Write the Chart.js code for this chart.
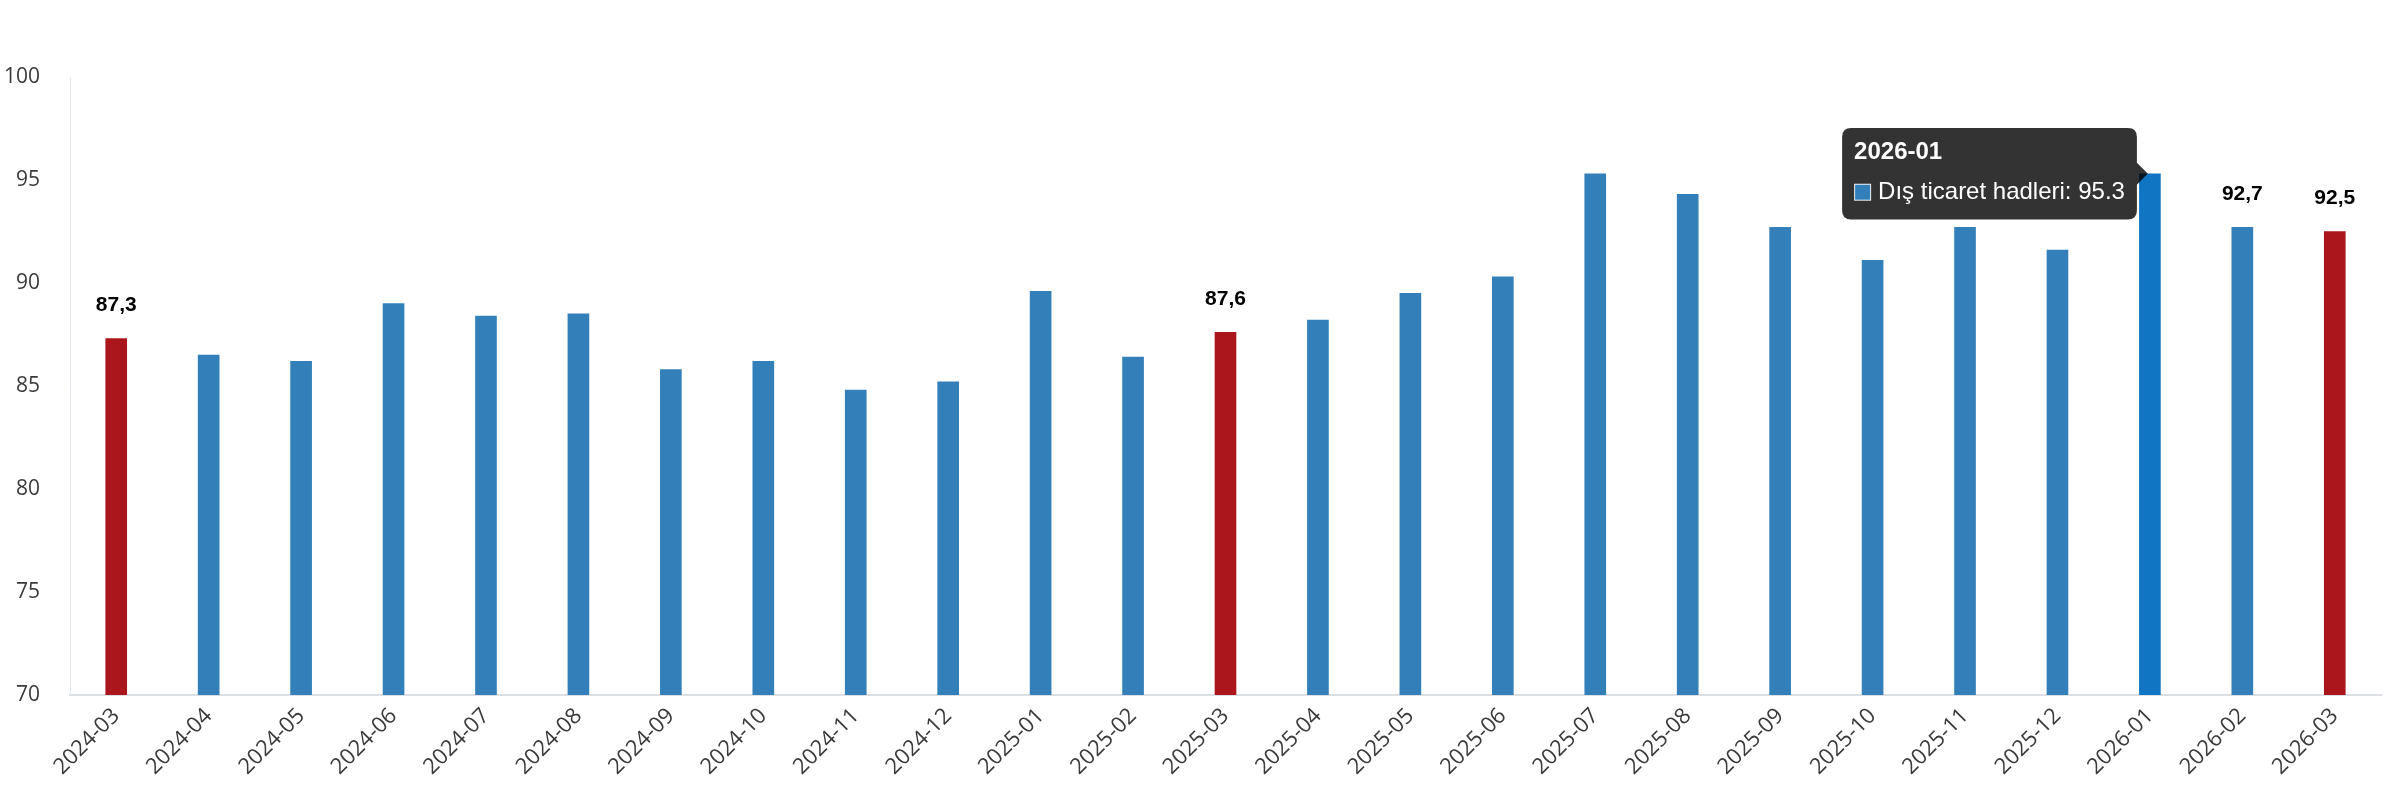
<!DOCTYPE html>
<html lang="tr">
<head>
<meta charset="utf-8">
<title>Dış ticaret hadleri</title>
<script src="https://cdn.jsdelivr.net/npm/chart.js@4.4.1/dist/chart.umd.min.js"></script>
<style>
  html, body { margin: 0; padding: 0; background: #fff; }
  #kutu { width: 2384px; height: 800px; position: relative; }
</style>
</head>
<body>
<div id="kutu"><canvas id="grafik"></canvas></div>
<script>
// aylar ve endeks değerleri
const aylar = ['2024-03', '2024-04', '2024-05', '2024-06', '2024-07', '2024-08', '2024-09', '2024-10', '2024-11', '2024-12',
    '2025-01', '2025-02', '2025-03', '2025-04', '2025-05', '2025-06', '2025-07', '2025-08', '2025-09', '2025-10',
    '2025-11', '2025-12', '2026-01', '2026-02', '2026-03'];
const hadler = [87.3, 86.5, 86.2, 89.0, 88.4, 88.5, 85.8, 86.2, 84.8, 85.2,
    89.6, 86.4, 87.6, 88.2, 89.5, 90.3, 95.3, 94.3, 92.7, 91.1,
    92.7, 91.6, 95.3, 92.7, 92.5];
const yTikleri = [70, 75, 80, 85, 90, 95, 100];
const kirmiziAylar = ['2024-03', '2025-03', '2026-03'];   // mart ayları kırmızı
const etiketliAylar = ['2024-03', '2025-03', '2026-02', '2026-03'];
const seciliAy = '2026-01';   // tooltip gösterilen ay

const mavi = '#337fb9';
const kirmizi = '#ab161d';
const seciliMavi = '#1076c3';
const yaziTipi = '"Open Sans", "Noto Sans", sans-serif';
const tooltipYazi = '"Liberation Sans", Arial, sans-serif';

const renkler = aylar.map(a => kirmiziAylar.includes(a) ? kirmizi : mavi);
const hoverRenkler = aylar.map(a => kirmiziAylar.includes(a) ? kirmizi : seciliMavi);

// basit veri etiketi eklentisi (datalabels yerine)
const degerEtiketleri = {
    id: 'degerEtiketleri',
    afterDatasetsDraw(chart) {
        const ctx = chart.ctx;
        const meta = chart.getDatasetMeta(0);
        ctx.save();
        ctx.font = 'bold 21px ' + tooltipYazi;
        ctx.fillStyle = '#000';
        ctx.textAlign = 'center';
        ctx.textBaseline = 'middle';
        aylar.forEach((ay, i) => {
            if (!etiketliAylar.includes(ay)) return;
            const bar = meta.data[i];
            ctx.fillText(hadler[i].toFixed(1).replace('.', ','), bar.x, bar.y - 33);
        });
        ctx.restore();
    }
};

const grafik = new Chart(document.getElementById('grafik'), {
    type: 'bar',
    data: {
        labels: aylar,
        datasets: [{
            label: 'Dış ticaret hadleri',
            data: hadler,
            backgroundColor: renkler,
            hoverBackgroundColor: hoverRenkler,
            borderWidth: 0,
            barThickness: 21
        }]
    },
    options: {
        responsive: true,
        maintainAspectRatio: false,
        animation: false,
        locale: 'en-US',
        layout: { padding: { top: 77, right: 3, left: 0, bottom: 0 } },
        plugins: {
            legend: { display: false },
            tooltip: {
                xAlign: 'right',
                yAlign: 'center',
                backgroundColor: 'rgba(0,0,0,0.8)',
                titleFont: { family: tooltipYazi, size: 24, weight: 'bold' },
                bodyFont: { family: tooltipYazi, size: 24 },
                titleMarginBottom: 11,
                padding: { top: 10, bottom: 13, left: 12, right: 12 },
                cornerRadius: 9,
                caretSize: 11,
                caretPadding: 2,
                boxPadding: 5,
                boxWidth: 17,
                boxHeight: 17
            }
        },
        scales: {
            x: {
                grid: { display: false },
                border: { display: true, color: '#dcdfe4', width: 2 },
                ticks: {
                    color: '#3a3a3a',
                    font: { family: yaziTipi, size: 22 },
                    maxRotation: 45,
                    minRotation: 45,
                    padding: 0,
                    autoSkip: false
                },
                afterFit(scale) { scale.height = 105; }
            },
            y: {
                min: 70,
                max: 100,
                afterBuildTicks(scale) { scale.ticks = yTikleri.map(v => ({ value: v })); },
                grid: { display: false },
                border: { display: true, color: '#e3e8ee', width: 1 },
                ticks: {
                    color: '#3a3a3a',
                    font: { family: yaziTipi, size: 21 },
                    padding: 22
                },
                afterFit(scale) { scale.width = 70; }
            }
        }
    },
    plugins: [degerEtiketleri]
});

// 2026-01 çubuğu üzerinde tooltip göster
const secili = [{ datasetIndex: 0, index: aylar.indexOf(seciliAy) }];
const seciliBar = grafik.getDatasetMeta(0).data[secili[0].index];
grafik.setActiveElements(secili);
grafik.tooltip.setActiveElements(secili, { x: seciliBar.x, y: seciliBar.y });
grafik.update();
</script>
</body>
</html>
